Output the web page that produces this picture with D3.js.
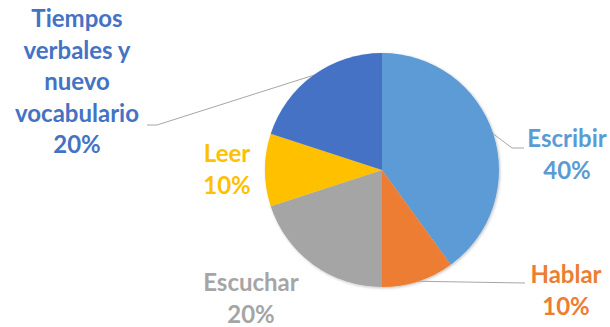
<!DOCTYPE html>
<html>
<head>
<meta charset="utf-8">
<script src="https://cdn.jsdelivr.net/npm/d3@7/dist/d3.min.js"></script>
<style>
  html, body { margin: 0; padding: 0; background: #fff; }
  svg { display: block; }
  text { font-family: Lato, "Open Sans", sans-serif; font-weight: 700; }
</style>
</head>
<body>
<svg id="chart" width="610" height="327"></svg>
<script>
// Activity shares
const categories = ["Escribir", "Hablar", "Escuchar", "Leer", "Tiempos verbales y nuevo vocabulario"];
const values = [40, 10, 20, 10, 20];
const labelLines = [
  ["Escribir"],
  ["Hablar"],
  ["Escuchar"],
  ["Leer"],
  ["Tiempos", "verbales y", "nuevo", "vocabulario"]
];
const colors = ["#5B9BD5", "#ED7D31", "#A5A5A5", "#FFC000", "#4472C4"];

// Label placement: centre x and first baseline y, plus leader elbow (if any)
const layout = [
  { x: 567, y: 147, leader: [[512, 148], [524, 148]] },
  { x: 566, y: 283, leader: [[525, 283]] },
  { x: 251, y: 291, leader: null },
  { x: 227, y: 162, leader: null },
  { x: 77,  y: 27,  leader: [[157, 125], [147, 125]] }
];

const svg = d3.select("#chart");
const cx = 382, cy = 170, r = 117;
const lineH = 31.5;

const total = d3.sum(values);
const pie = d3.pie().sort(null).value(d => d)(values);
const arc = d3.arc().innerRadius(0).outerRadius(r);

const g = svg.append("g").attr("transform", `translate(${cx},${cy})`);

const defs = svg.append("defs");
const f = defs.append("filter").attr("id", "soft").attr("x", "-10%").attr("y", "-10%").attr("width", "120%").attr("height", "120%");
f.append("feGaussianBlur").attr("in", "SourceAlpha").attr("stdDeviation", 1.5);
f.append("feOffset").attr("dx", 0.5).attr("dy", 0.5).attr("result", "b");
f.append("feComponentTransfer").append("feFuncA").attr("type", "linear").attr("slope", 0.25);
const m = f.append("feMerge");
m.append("feMergeNode");
m.append("feMergeNode").attr("in", "SourceGraphic");

g.append("g").attr("filter", "url(#soft)")
  .selectAll("path")
  .data(pie)
  .join("path")
  .attr("d", arc)
  .attr("fill", (d, i) => colors[i]);

// Leader lines from slice edge midpoint
pie.forEach((d, i) => {
  const L = layout[i];
  if (!L.leader) return;
  const a = (d.startAngle + d.endAngle) / 2;
  const start = [cx + r * Math.sin(a), cy - r * Math.cos(a)];
  const pts = [start, ...L.leader];
  svg.append("path")
    .attr("d", d3.line()(pts))
    .attr("fill", "none")
    .attr("stroke", "#a6a6a6")
    .attr("stroke-width", 1);
});

// Labels: category name + percentage
pie.forEach((d, i) => {
  const L = layout[i];
  const lines = [...labelLines[i], d3.format(".0%")(values[i] / total)];
  const t = svg.append("text")
    .attr("text-anchor", "middle")
    .attr("fill", colors[i])
    .attr("font-size", 24);
  lines.forEach((s, k) => {
    t.append("tspan").attr("x", L.x).attr("y", L.y + k * lineH).text(s);
  });
});
</script>
</body>
</html>
